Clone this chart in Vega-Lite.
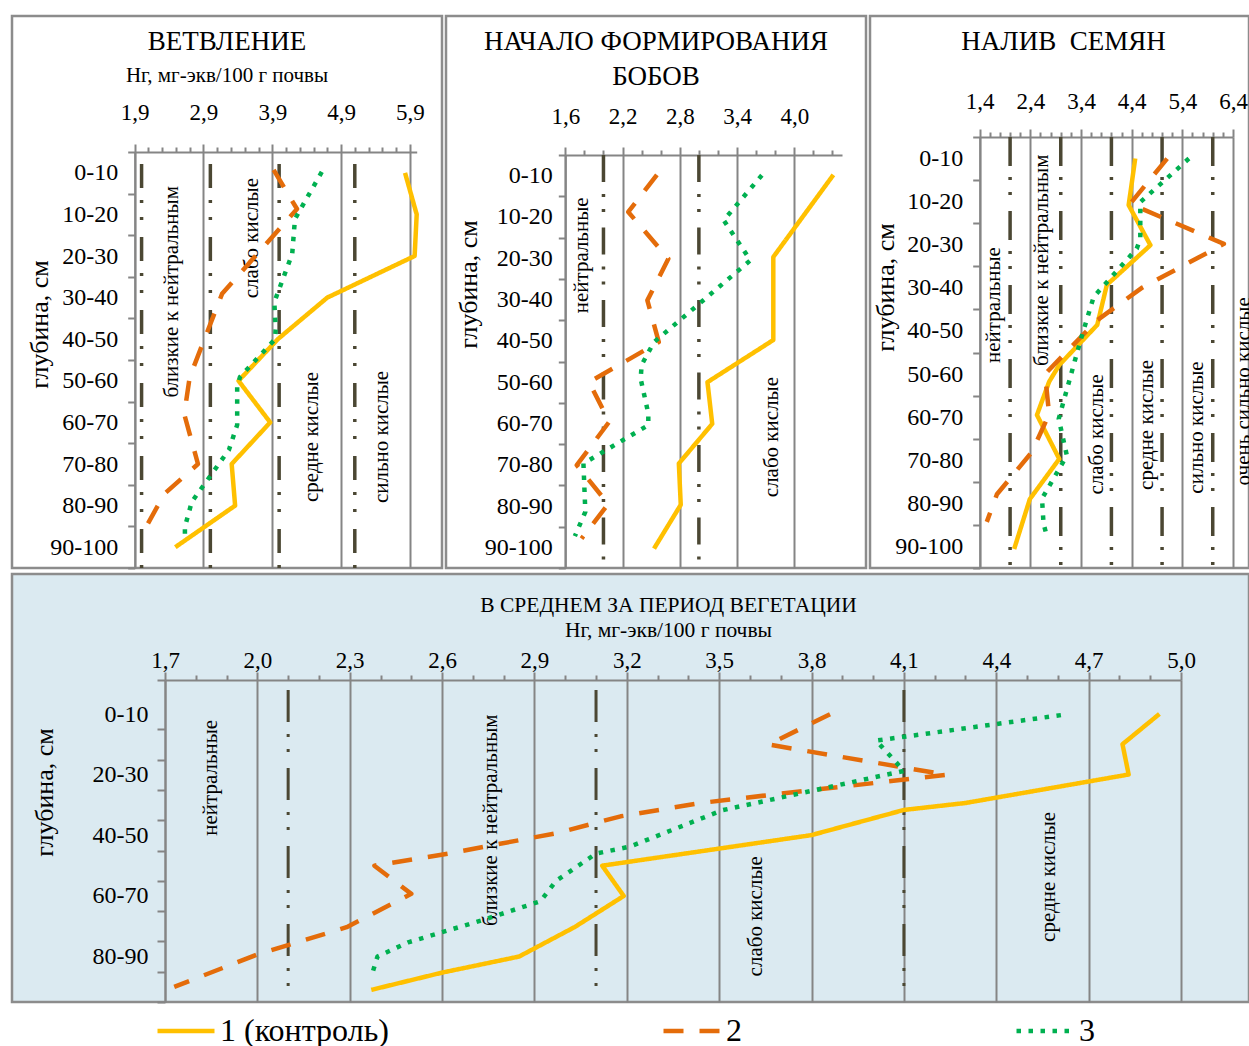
{
"$schema": "https://vega.github.io/schema/vega-lite/v6.json",
"background": "white",
"padding": {"left": 10, "top": 14, "right": 0, "bottom": 0},
"config": {
 "font": "Liberation Serif",
 "view": {"stroke": "#8c8c8c", "strokeWidth": 2.5, "fill": "white"},
 "axis": {"labelFont": "Liberation Serif", "titleFont": "Liberation Serif", "labelColor": "black", "titleColor": "black", "domainColor": "#858585", "domainWidth": 2, "tickColor": "#858585", "tickWidth": 2, "gridColor": "#858585", "gridWidth": 2, "labelFlush": false, "labelOverlap": false, "labelBound": false, "titleFontWeight": "normal"},
 "title": {"font": "Liberation Serif", "fontSize": 27, "fontWeight": "normal", "color": "black", "subtitleFont": "Liberation Serif", "subtitleFontSize": 21, "subtitleColor": "black", "anchor": "middle", "frame": "group"},
 "legend": {"symbolType": "stroke", "symbolSize": 3249, "symbolStrokeWidth": 4.5, "labelFontSize": 32, "labelFont": "Liberation Serif", "labelColor": "black", "labelOffset": 3, "labelLimit": 400, "columnPadding": 272, "clipHeight": 36},
 "text": {"font": "Liberation Serif", "color": "black"}
},
"datasets": {
 "p1": [
  {"s":"1 (контроль)","v":5.83,"d":5},{"s":"1 (контроль)","v":6.0,"d":15},{"s":"1 (контроль)","v":5.97,"d":25},{"s":"1 (контроль)","v":4.70,"d":35},{"s":"1 (контроль)","v":3.98,"d":45},{"s":"1 (контроль)","v":3.41,"d":55},{"s":"1 (контроль)","v":3.87,"d":65},{"s":"1 (контроль)","v":3.31,"d":75},{"s":"1 (контроль)","v":3.36,"d":85},{"s":"1 (контроль)","v":2.49,"d":95},
  {"s":"2","v":3.92,"d":4.3},{"s":"2","v":4.26,"d":13.7},{"s":"2","v":3.17,"d":34.1},{"s":"2","v":2.70,"d":54.1},{"s":"2","v":2.62,"d":63},{"s":"2","v":2.82,"d":75},{"s":"2","v":2.33,"d":82.2},{"s":"2","v":2.04,"d":90.9},
  {"s":"3","v":4.62,"d":4.8},{"s":"3","v":4.23,"d":16.1},{"s":"3","v":4.19,"d":24.5},{"s":"3","v":3.93,"d":36.1},{"s":"3","v":3.95,"d":42.5},{"s":"3","v":3.94,"d":45},{"s":"3","v":3.43,"d":54.1},{"s":"3","v":3.39,"d":56.5},{"s":"3","v":3.39,"d":65.6},{"s":"3","v":3.27,"d":71.6},{"s":"3","v":2.73,"d":84.1},{"s":"3","v":2.63,"d":90.1},{"s":"3","v":2.63,"d":93}
 ],
 "b1": [{"v":2.0,"d":0,"d1":100},{"v":3.0,"d":0,"d1":100},{"v":4.0,"d":0,"d1":100},{"v":5.1,"d":0,"d1":100}],
 "t1": [{"t":"близкие к нейтральным","v":2.44,"d":33.6},{"t":"слабо кислые","v":3.60,"d":20.7},{"t":"средне кислые","v":4.48,"d":68.5},{"t":"сильно кислые","v":5.49,"d":68.5}],
 "p2": [
  {"s":"1 (контроль)","v":4.41,"d":4.8},{"s":"1 (контроль)","v":3.78,"d":24.7},{"s":"1 (контроль)","v":3.78,"d":44.8},{"s":"1 (контроль)","v":3.09,"d":55},{"s":"1 (контроль)","v":3.14,"d":65.1},{"s":"1 (контроль)","v":2.79,"d":74.7},{"s":"1 (контроль)","v":2.81,"d":84.7},{"s":"1 (контроль)","v":2.53,"d":95.3},
  {"s":"2","v":2.56,"d":4.8},{"s":"2","v":2.26,"d":13.8},{"s":"2","v":2.68,"d":25.1},{"s":"2","v":2.46,"d":35.2},{"s":"2","v":2.58,"d":45.3},{"s":"2","v":1.85,"d":55},{"s":"2","v":2.06,"d":64.6},{"s":"2","v":1.72,"d":75.1},{"s":"2","v":2.05,"d":84.5},{"s":"2","v":1.77,"d":92.9},
  {"s":"3","v":3.66,"d":4.9},{"s":"3","v":3.26,"d":15.8},{"s":"3","v":3.54,"d":25.5},{"s":"3","v":2.53,"d":45.3},{"s":"3","v":2.40,"d":50.8},{"s":"3","v":2.39,"d":54.2},{"s":"3","v":2.47,"d":62.6},{"s":"3","v":2.47,"d":65.4},{"s":"3","v":1.79,"d":74.7},{"s":"3","v":1.81,"d":86.4},{"s":"3","v":1.70,"d":92.3}
 ],
 "b2": [{"v":2.0,"d":0,"d1":100},{"v":3.0,"d":0,"d1":100}],
 "t2": [{"t":"нейтральные","v":1.77,"d":24.3},{"t":"слабо кислые","v":3.77,"d":68.3}],
 "p3": [
  {"s":"1 (контроль)","v":4.47,"d":5.0},{"s":"1 (контроль)","v":4.34,"d":15.8},{"s":"1 (контроль)","v":4.77,"d":25.1},{"s":"1 (контроль)","v":3.91,"d":34.3},{"s":"1 (контроль)","v":3.72,"d":43.6},{"s":"1 (контроль)","v":2.97,"d":52.9},{"s":"1 (контроль)","v":2.77,"d":56.8},{"s":"1 (контроль)","v":2.53,"d":64.5},{"s":"1 (контроль)","v":2.97,"d":74.7},{"s":"1 (контроль)","v":2.39,"d":84},{"s":"1 (контроль)","v":2.08,"d":95.6},
  {"s":"2","v":5.10,"d":5.0},{"s":"2","v":4.37,"d":15.5},{"s":"2","v":6.22,"d":24.8},{"s":"2","v":4.60,"d":35.0},{"s":"2","v":3.72,"d":42.5},{"s":"2","v":2.69,"d":55},{"s":"2","v":2.77,"d":64.3},{"s":"2","v":2.43,"d":73.1},{"s":"2","v":1.74,"d":82.9},{"s":"2","v":1.54,"d":89.3},
  {"s":"3","v":5.53,"d":5.0},{"s":"3","v":4.57,"d":15.1},{"s":"3","v":4.57,"d":23.6},{"s":"3","v":4.50,"d":25.9},{"s":"3","v":3.65,"d":37.1},{"s":"3","v":3.42,"d":46},{"s":"3","v":3.29,"d":51.4},{"s":"3","v":2.96,"d":65.4},{"s":"3","v":3.12,"d":73.9},{"s":"3","v":2.63,"d":83.9},{"s":"3","v":2.66,"d":89.7},{"s":"3","v":2.73,"d":92.8}
 ],
 "b3": [{"v":2.0,"d":0,"d1":100},{"v":3.0,"d":0,"d1":100},{"v":4.0,"d":0,"d1":100},{"v":5.0,"d":0,"d1":100},{"v":6.0,"d":0,"d1":100}],
 "t3": [{"t":"нейтральные","v":1.68,"d":39},{"t":"близкие к нейтральным","v":2.63,"d":28.6},{"t":"слабо кислые","v":3.72,"d":69},{"t":"средне кислые","v":4.70,"d":66.8},{"t":"сильно кислые","v":5.69,"d":67.4},{"t":"очень сильно кислые","v":6.62,"d":59}],
 "p4": [
  {"s":"1 (контроль)","v":4.93,"d":4.9},{"s":"1 (контроль)","v":4.81,"d":14.9},{"s":"1 (контроль)","v":4.83,"d":24.9},{"s":"1 (контроль)","v":4.30,"d":34.3},{"s":"1 (контроль)","v":4.10,"d":36.6},{"s":"1 (контроль)","v":3.80,"d":44.9},{"s":"1 (контроль)","v":3.12,"d":55},{"s":"1 (контроль)","v":3.19,"d":65},{"s":"1 (контроль)","v":3.03,"d":75.3},{"s":"1 (контроль)","v":2.85,"d":85},{"s":"1 (контроль)","v":2.60,"d":90.3},{"s":"1 (контроль)","v":2.37,"d":96},
  {"s":"2","v":3.86,"d":5},{"s":"2","v":3.66,"d":15},{"s":"2","v":4.24,"d":25},{"s":"2","v":3.83,"d":29.7},{"s":"2","v":3.44,"d":34.3},{"s":"2","v":3.18,"d":38.7},{"s":"2","v":2.97,"d":44.3},{"s":"2","v":2.62,"d":51},{"s":"2","v":2.38,"d":55},{"s":"2","v":2.50,"d":64.3},{"s":"2","v":2.29,"d":75.3},{"s":"2","v":2.0,"d":84.3},{"s":"2","v":1.73,"d":95},
  {"s":"3","v":4.61,"d":5.3},{"s":"3","v":4.01,"d":13.7},{"s":"3","v":4.10,"d":23.7},{"s":"3","v":3.51,"d":36.7},{"s":"3","v":3.21,"d":48.7},{"s":"3","v":3.10,"d":51},{"s":"3","v":2.97,"d":60},{"s":"3","v":2.92,"d":66.7},{"s":"3","v":2.74,"d":72.7},{"s":"3","v":2.49,"d":80.3},{"s":"3","v":2.39,"d":85},{"s":"3","v":2.37,"d":91.7}
 ],
 "b4": [{"v":2.1,"d":-3,"d1":100},{"v":3.1,"d":-3,"d1":100},{"v":4.1,"d":-3,"d1":100}],
 "t4": [{"t":"нейтральные","v":1.85,"d":26},{"t":"близкие к нейтральным","v":2.76,"d":40},{"t":"слабо кислые","v":3.62,"d":71.7},{"t":"средне кислые","v":4.57,"d":58.7}]
},
"concat": [
  {
   "width": 430, "height": 552,
   "title": {"text": "ВЕТВЛЕНИЕ", "subtitle": "Нг, мг-экв/100 г почвы", "offset": -70.6, "subtitlePadding": 9},
   "encoding": {
    "x": {"field": "v", "type": "quantitative", "scale": {"domain": [1.9, 6.0], "range": [122.7, 404.7], "zero": false, "nice": false},
      "axis": {"orient": "top", "offset": -136, "values": [1.9,2.1,2.3,2.5,2.7,2.9,3.1,3.3,3.5,3.7,3.9,4.1,4.3,4.5,4.7,4.9,5.1,5.3,5.5,5.7,5.9],
        "labelExpr": "round((datum.value-1.9)*10)%10==0 ? replace(format(datum.value,'.1f'),'.',',') : ''",
        "tickSize": {"condition": {"test": "round((datum.value-1.9)*10)%10==0", "value": 8}, "value": 5},
        "grid": true, "gridOpacity": {"condition": {"test": "round((datum.value-1.9)*10)%10==0", "value": 1}, "value": 0},
        "labelPadding": 24.3, "labelBaseline": "alphabetic", "labelFontSize": 23, "title": null}},
    "y": {"field": "d", "type": "quantitative", "scale": {"domain": [0, 100], "range": [136, 552], "zero": false, "nice": false},
      "axis": {"orient": "left", "offset": -122.7, "values": [0,5,10,15,20,25,30,35,40,45,50,55,60,65,70,75,80,85,90,95,100],
        "labelExpr": "datum.value%10==5 ? (datum.value-5)+'-'+(datum.value+5) : ''",
        "tickSize": 7, "tickOpacity": {"condition": {"test": "datum.value%10==0", "value": 1}, "value": 0},
        "labelPadding": 10, "labelFontSize": 24, "labelAlign": "right", "labelBaseline": "middle", "grid": false,
        "title": "глубина, см", "titleFontSize": 26, "titleAngle": 270, "titleAlign": "center", "titleBaseline": "middle", "titleX": -95, "titleY": 308}}
   },
   "layer": [
    {"data": {"name": "b1"}, "mark": {"type": "rule", "color": "#4b4733", "strokeWidth": 3.5, "strokeDash": [24,12,3,14,3,17], "strokeDashOffset": 61},
     "encoding": {"y2": {"field": "d1"}}},
    {"data": {"name": "t1"}, "mark": {"type": "text", "angle": 270, "fontSize": 21, "align": "center", "baseline": "middle"},
     "encoding": {"text": {"field": "t"}}},
    {"data": {"name": "p1"}, "mark": {"type": "line", "strokeWidth": 4.5, "strokeJoin": "round"},
     "encoding": {
      "color": {"field": "s", "type": "nominal", "scale": {"domain": ["1 (контроль)","2","3"], "range": ["#FFC000","#E46C0A","#00B050"]}, "legend": {"title": null, "orient": "none", "legendX": 143, "legendY": 997, "direction": "horizontal"}},
      "strokeDash": {"field": "s", "type": "nominal", "scale": {"domain": ["1 (контроль)","2","3"], "range": [[1,0],[20,16],[4.5,7.5]]}, "legend": {"title": null, "orient": "none", "legendX": 143, "legendY": 997, "direction": "horizontal"}},
      "order": {"field": "d", "type": "quantitative"}}}
   ]
  },
  {
   "width": 420, "height": 552,
   "title": {"text": ["НАЧАЛО ФОРМИРОВАНИЯ", "БОБОВ"], "offset": -75.3, "lineHeight": 35},
   "encoding": {
    "x": {"field": "v", "type": "quantitative", "scale": {"domain": [1.6, 4.5], "range": [119.3, 396], "zero": false, "nice": false},
      "axis": {"orient": "top", "offset": -139, "values": [1.6,1.8,2.0,2.2,2.4,2.6,2.8,3.0,3.2,3.4,3.6,3.8,4.0,4.2,4.4],
        "labelExpr": "round((datum.value-1.6)*10)%6==0 ? replace(format(datum.value,'.1f'),'.',',') : ''",
        "tickSize": {"condition": {"test": "round((datum.value-1.6)*10)%6==0", "value": 8}, "value": 5},
        "grid": true, "gridOpacity": {"condition": {"test": "round((datum.value-1.6)*10)%6==0", "value": 1}, "value": 0},
        "labelPadding": 24, "labelBaseline": "alphabetic", "labelFontSize": 23, "title": null}},
    "y": {"field": "d", "type": "quantitative", "scale": {"domain": [0, 100], "range": [139, 552], "zero": false, "nice": false},
      "axis": {"orient": "left", "offset": -119.3, "values": [0,5,10,15,20,25,30,35,40,45,50,55,60,65,70,75,80,85,90,95,100],
        "labelExpr": "datum.value%10==5 ? (datum.value-5)+'-'+(datum.value+5) : ''",
        "tickSize": 7, "tickOpacity": {"condition": {"test": "datum.value%10==0", "value": 1}, "value": 0},
        "labelPadding": 6, "labelFontSize": 24, "labelAlign": "right", "labelBaseline": "middle", "grid": false,
        "title": "глубина, см", "titleFontSize": 26, "titleAngle": 270, "titleAlign": "center", "titleBaseline": "middle", "titleX": -97, "titleY": 268}}
   },
   "layer": [
    {"data": {"name": "b2"}, "mark": {"type": "rule", "color": "#4b4733", "strokeWidth": 3.5, "strokeDash": [27,12,3,12,3,15.5]},
     "encoding": {"y2": {"field": "d1"}}},
    {"data": {"name": "t2"}, "mark": {"type": "text", "angle": 270, "fontSize": 21, "align": "center", "baseline": "middle"},
     "encoding": {"text": {"field": "t"}}},
    {"data": {"name": "p2"}, "mark": {"type": "line", "strokeWidth": 4.5, "strokeJoin": "round"},
     "encoding": {
      "color": {"field": "s", "type": "nominal", "scale": {"domain": ["1 (контроль)","2","3"], "range": ["#FFC000","#E46C0A","#00B050"]}, "legend": {"title": null, "orient": "none", "legendX": 143, "legendY": 997, "direction": "horizontal"}},
      "strokeDash": {"field": "s", "type": "nominal", "scale": {"domain": ["1 (контроль)","2","3"], "range": [[1,0],[20,16],[4.5,7.5]]}, "legend": {"title": null, "orient": "none", "legendX": 143, "legendY": 997, "direction": "horizontal"}},
      "order": {"field": "d", "type": "quantitative"}}}
   ]
  },
  {
   "width": 379, "height": 552,
   "title": {"text": "НАЛИВ \u00a0СЕМЯН", "offset": -40.3, "dx": 4},
   "encoding": {
    "x": {"field": "v", "type": "quantitative", "scale": {"domain": [1.4, 6.4], "range": [109.7, 363], "zero": false, "nice": false},
      "axis": {"orient": "top", "offset": -121, "values": [1.4,1.6,1.8,2.0,2.2,2.4,2.6,2.8,3.0,3.2,3.4,3.6,3.8,4.0,4.2,4.4,4.6,4.8,5.0,5.2,5.4,5.6,5.8,6.0,6.2,6.4],
        "labelExpr": "round((datum.value-1.4)*10)%10==0 ? replace(format(datum.value,'.1f'),'.',',') : ''",
        "tickSize": {"condition": {"test": "round((datum.value-1.4)*10)%10==0", "value": 8}, "value": 5},
        "grid": true, "gridOpacity": {"condition": {"test": "round((datum.value-1.4)*10)%10==0", "value": 1}, "value": 0},
        "labelPadding": 21, "labelBaseline": "alphabetic", "labelFontSize": 23, "title": null}},
    "y": {"field": "d", "type": "quantitative", "scale": {"domain": [0, 100], "range": [121, 552], "zero": false, "nice": false},
      "axis": {"orient": "left", "offset": -109.7, "values": [0,5,10,15,20,25,30,35,40,45,50,55,60,65,70,75,80,85,90,95,100],
        "labelExpr": "datum.value%10==5 ? (datum.value-5)+'-'+(datum.value+5) : ''",
        "tickSize": 7, "tickOpacity": {"condition": {"test": "datum.value%10==0", "value": 1}, "value": 0},
        "labelPadding": 10, "labelFontSize": 24, "labelAlign": "right", "labelBaseline": "middle", "grid": false,
        "title": "глубина, см", "titleFontSize": 26, "titleAngle": 270, "titleAlign": "center", "titleBaseline": "middle", "titleX": -94, "titleY": 271}}
   },
   "layer": [
    {"data": {"name": "b3"}, "mark": {"type": "rule", "color": "#4b4733", "strokeWidth": 3.5, "strokeDash": [29,11,3,12,3,16]},
     "encoding": {"y2": {"field": "d1"}}},
    {"data": {"name": "t3"}, "mark": {"type": "text", "angle": 270, "fontSize": 21, "align": "center", "baseline": "middle", "clip": true},
     "encoding": {"text": {"field": "t"}}},
    {"data": {"name": "p3"}, "mark": {"type": "line", "strokeWidth": 4.5, "strokeJoin": "round"},
     "encoding": {
      "color": {"field": "s", "type": "nominal", "scale": {"domain": ["1 (контроль)","2","3"], "range": ["#FFC000","#E46C0A","#00B050"]}, "legend": {"title": null, "orient": "none", "legendX": 143, "legendY": 997, "direction": "horizontal"}},
      "strokeDash": {"field": "s", "type": "nominal", "scale": {"domain": ["1 (контроль)","2","3"], "range": [[1,0],[20,16],[4.5,7.5]]}, "legend": {"title": null, "orient": "none", "legendX": 143, "legendY": 997, "direction": "horizontal"}},
      "order": {"field": "d", "type": "quantitative"}}}
   ]
  },
  {"vconcat": [
  {
  "width": 1237, "height": 428,
  "view": {"fill": "#dbeaf1"},
  "encoding": {
   "x": {"field": "v", "type": "quantitative", "scale": {"domain": [1.7, 5.0], "range": [153, 1169], "zero": false, "nice": false},
     "axis": {"orient": "top", "offset": -106, "values": [1.7,1.8,1.9,2.0,2.1,2.2,2.3,2.4,2.5,2.6,2.7,2.8,2.9,3.0,3.1,3.2,3.3,3.4,3.5,3.6,3.7,3.8,3.9,4.0,4.1,4.2,4.3,4.4,4.5,4.6,4.7,4.8,4.9,5.0],
       "labelExpr": "round((datum.value-1.7)*10)%3==0 ? replace(format(datum.value,'.1f'),'.',',') : ''",
       "tickSize": {"condition": {"test": "round((datum.value-1.7)*10)%3==0", "value": 8}, "value": 5},
       "grid": true, "gridOpacity": {"condition": {"test": "round((datum.value-1.7)*10)%3==0", "value": 1}, "value": 0},
       "labelPadding": 5, "labelBaseline": "alphabetic", "labelFontSize": 23,
       "title": ["В СРЕДНЕМ ЗА ПЕРИОД ВЕГЕТАЦИИ", "Нг, мг-экв/100 г почвы"], "titleFontSize": 21.5, "titleLineHeight": 25, "titleAlign": "center", "titleBaseline": "top", "titleAngle": 0, "titleX": 656, "titleY": -85.2}},
   "y": {"field": "d", "type": "quantitative", "scale": {"domain": [-6.3, 100], "range": [106, 428], "zero": false, "nice": false},
     "axis": {"orient": "left", "offset": -153, "values": [-6.3,5,10,20,25,30,40,45,50,60,65,70,80,85,90,100],
       "labelExpr": "datum.value%20==5 ? (datum.value-5)+'-'+(datum.value+5) : ''",
       "tickSize": 8, "tickOpacity": {"condition": {"test": "datum.value%10==0 || datum.value<0", "value": 1}, "value": 0},
       "labelPadding": 9, "labelFontSize": 24, "labelAlign": "right", "labelBaseline": "middle", "grid": false,
       "title": "глубина, см", "titleFontSize": 26, "titleAngle": 270, "titleAlign": "center", "titleBaseline": "middle", "titleX": -121, "titleY": 218}}
  },
  "layer": [
   {"data": {"name": "b4"}, "mark": {"type": "rule", "color": "#4b4733", "strokeWidth": 3, "strokeDash": [32,12,3,12,3,16]},
    "encoding": {"y2": {"field": "d1"}}},
   {"data": {"name": "t4"}, "mark": {"type": "text", "angle": 270, "fontSize": 21, "align": "center", "baseline": "middle"},
    "encoding": {"text": {"field": "t"}}},
   {"data": {"name": "p4"}, "mark": {"type": "line", "strokeWidth": 4.5, "strokeJoin": "round"},
    "encoding": {
     "color": {"field": "s", "type": "nominal", "scale": {"domain": ["1 (контроль)","2","3"], "range": ["#FFC000","#E46C0A","#00B050"]}, "legend": {"title": null, "orient": "none", "legendX": 143, "legendY": 997, "direction": "horizontal"}},
     "strokeDash": {"field": "s", "type": "nominal", "scale": {"domain": ["1 (контроль)","2","3"], "range": [[1,0],[20,16],[4.5,7.5]]}, "legend": {"title": null, "orient": "none", "legendX": 143, "legendY": 997, "direction": "horizontal"}},
     "order": {"field": "d", "type": "quantitative"}}}
  ]
  }
 ]}
],
"columns": 3,
"align": "none",
"bounds": "flush",
"spacing": {"row": 6, "column": 4}
}
